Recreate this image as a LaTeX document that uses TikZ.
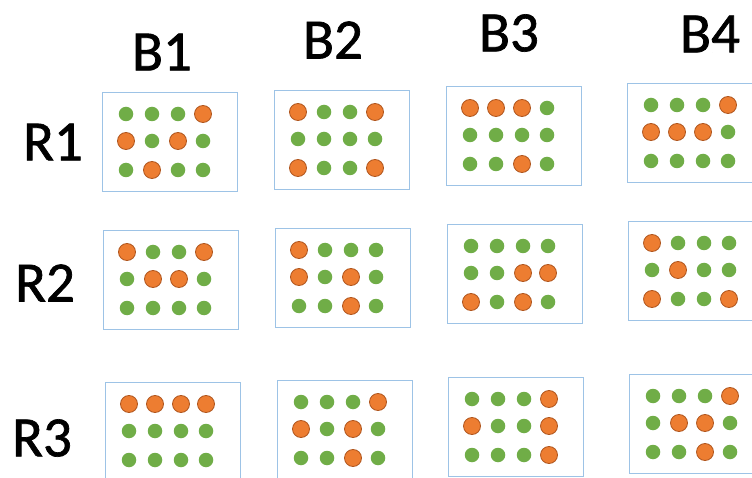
\documentclass[tikz,border=0pt]{standalone}
\usepackage{fontspec}
\setmainfont{Carlito}
\newfontfamily\lblfont[FakeBold=1.2]{Carlito}
\definecolor{dotgreen}{HTML}{70AD47}
\definecolor{dotorange}{HTML}{ED7D31}
\definecolor{dotedge}{HTML}{B0561E}
\definecolor{boxblue}{HTML}{9DC3E6}
\tikzset{
  panelbox/.style={draw=boxblue, line width=1.3pt, minimum width=135pt, minimum height=99pt, inner sep=0pt, anchor=north west},
  dotG/.style={circle, fill=dotgreen, inner sep=0pt, minimum size=14.5pt},
  dotO/.style={circle, fill=dotorange, draw=dotedge, line width=0.8pt, inner sep=0pt, minimum size=17pt},
  lbl/.style={font=\lblfont\fontsize{57}{60}\selectfont, inner sep=0pt, text=black}
}
\newcommand{\panel}[4]{%
  \node[panelbox] (#1) at (#2,#3) {};
  \foreach \c [count=\i from 0] in {#4} {
    \pgfmathtruncatemacro\col{mod(\i,4)}
    \pgfmathtruncatemacro\row{floor(\i/4)}
    \pgfmathsetmacro\dx{{24,50,76,101}[\col]}
    \pgfmathsetmacro\dy{{22,49,78}[\row]}
    \node[dot\c] (#1d\i) at ({#2+\dx},{#3+\dy}) {};
  }
}
\begin{document}
\begin{tikzpicture}[x=1pt,y=-1pt]
\useasboundingbox (0,0) rectangle (752,478);
\clip (0,0) rectangle (752,478);
\fill[white] (0,0) rectangle (752,478);
% column labels
\node[lbl] (b1) at (162,52) {B1};
\node[lbl] (b2) at (333,40) {B2};
\node[lbl] (b3) at (509,33) {B3};
\node[lbl] (b4) at (710,34) {B4};
% row labels
\node[lbl] (r1) at (53,142) {R1};
\node[lbl] (r2) at (45,283) {R2};
\node[lbl] (r3) at (42,438) {R3};
% row 1
\panel{rAbA}{102}{92}{G,G,G,O,O,G,O,G,G,O,G,G}
\panel{rAbB}{274}{90}{O,G,G,O,G,G,G,G,O,G,G,O}
\panel{rAbC}{446}{86}{O,O,O,G,G,G,G,G,G,G,O,G}
\panel{rAbD}{627}{83}{G,G,G,O,O,O,O,G,G,G,G,G}
% row 2
\panel{rBbA}{103}{230}{O,G,G,O,G,O,O,G,G,G,G,G}
\panel{rBbB}{275}{228}{O,G,G,G,O,G,O,G,G,G,O,G}
\panel{rBbC}{447}{224}{G,G,G,G,G,G,O,O,O,G,O,G}
\panel{rBbD}{628}{221}{O,G,G,G,G,O,G,G,O,G,G,O}
% row 3
\panel{rCbA}{105}{382}{O,O,O,O,G,G,G,G,G,G,G,G}
\panel{rCbB}{277}{380}{G,G,G,O,O,G,O,G,G,G,O,G}
\panel{rCbC}{448}{377}{G,G,G,O,O,G,G,O,G,G,G,O}
\panel{rCbD}{629}{374}{G,G,G,O,G,O,O,G,G,G,O,G}
\end{tikzpicture}
\end{document}
